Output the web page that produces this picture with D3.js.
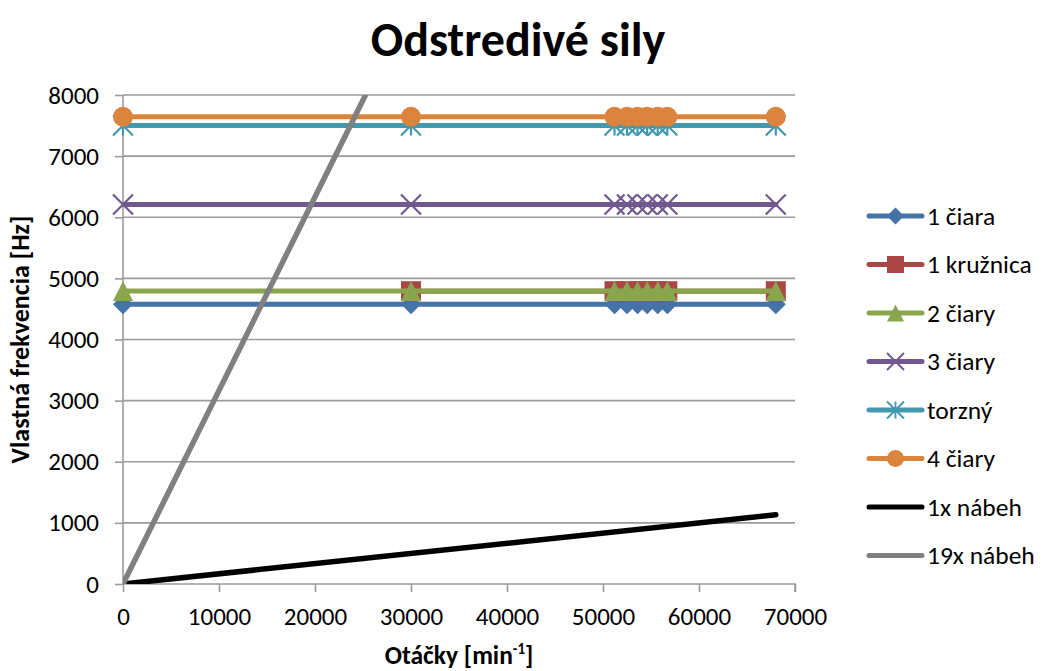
<!DOCTYPE html>
<html>
<head>
<meta charset="utf-8">
<script src="https://cdn.jsdelivr.net/npm/d3@7"></script>
<style>
  html, body { margin: 0; padding: 0; background: #fff; }
  svg { display: block; font-family: Carlito, Calibri, Lato, "Open Sans", sans-serif; }
</style>
</head>
<body>
<svg id="chart" width="1042" height="671"></svg>
<script>
// Rotational speed of each measurement [min^-1]
const rpm = [0, 30000, 51200, 52500, 53600, 54600, 55700, 56700, 68000];

// Natural frequencies of each mode [Hz]
const ciara1    = [4575, 4575, 4575, 4575, 4575, 4575, 4575, 4575, 4575];
const kruznica1 = [null, 4790, 4790, 4790, 4790, 4790, 4790, 4790, 4790];
const ciary2    = [4795, 4795, 4795, 4795, 4795, 4795, 4795, 4795, 4795];
const ciary3    = [6210, 6210, 6210, 6210, 6210, 6210, 6210, 6210, 6210];
const torzny    = [7500, 7500, 7500, 7500, 7500, 7500, 7500, 7500, 7500];
const ciary4    = [7645, 7645, 7645, 7645, 7645, 7645, 7645, 7645, 7645];

// Excitation lines (1x and 19x the rotational frequency)
const rpmRun   = [0, 68000];
const nabeh1x  = [0, 1133];
const nabeh19x = [0, 21533];

const xTicks = [0, 10000, 20000, 30000, 40000, 50000, 60000, 70000];
const yTicks = [0, 1000, 2000, 3000, 4000, 5000, 6000, 7000, 8000];

const seriesNames = ["1 čiara", "1 kružnica", "2 čiary", "3 čiary", "torzný", "4 čiary", "1x nábeh", "19x nábeh"];
const seriesColors = ["#4572A7", "#AA4643", "#89A54E", "#71588F", "#4198AF", "#DB843D", "#000000", "#808080"];
const seriesMarkers = ["diamond", "square", "triangle", "cross", "star", "circle", null, null];

const series = [
  { x: rpm, y: ciara1 },
  { x: rpm, y: kruznica1 },
  { x: rpm, y: ciary2 },
  { x: rpm, y: ciary3 },
  { x: rpm, y: torzny },
  { x: rpm, y: ciary4 },
  { x: rpmRun, y: nabeh1x },
  { x: rpmRun, y: nabeh19x }
].map((s, i) => ({
  name: seriesNames[i], color: seriesColors[i], marker: seriesMarkers[i],
  points: s.x.map((xv, j) => ({ x: xv, y: s.y[j] }))
}));

const svg = d3.select("#chart");
const plot = { left: 123, right: 795, top: 95, bottom: 584 };

const x = d3.scaleLinear().domain([0, 70000]).range([plot.left, plot.right]);
const y = d3.scaleLinear().domain([0, 8000]).range([plot.bottom, plot.top]);

const gridColor = "#9b9b9b";
const tickFont = 25;

// Title
svg.append("text")
  .attr("x", 518).attr("y", 56)
  .attr("text-anchor", "middle")
  .attr("font-size", 48).attr("font-weight", "bold")
  .text("Odstredivé sily");

// Horizontal gridlines
svg.append("g").selectAll("line")
  .data(yTicks.filter(d => d > 0))
  .join("line")
  .attr("x1", plot.left).attr("x2", plot.right)
  .attr("y1", d => y(d)).attr("y2", d => y(d))
  .attr("stroke", gridColor).attr("stroke-width", 1.6);

// Axes
const yAxis = svg.append("g")
  .attr("transform", `translate(${plot.left},0)`)
  .call(d3.axisLeft(y).tickValues(yTicks).tickFormat(d3.format("d")).tickSize(8).tickPadding(16));
const xAxis = svg.append("g")
  .attr("transform", `translate(0,${plot.bottom})`)
  .call(d3.axisBottom(x).tickValues(xTicks).tickFormat(d3.format("d")).tickSize(8).tickPadding(15));
[xAxis, yAxis].forEach(g => {
  g.attr("font-size", tickFont).attr("font-family", null);
  g.select(".domain").attr("stroke", gridColor).attr("stroke-width", 1.6);
  g.selectAll(".tick line").attr("stroke", gridColor).attr("stroke-width", 1.6);
  g.selectAll(".tick text").attr("fill", "#000");
});
xAxis.select(".domain").attr("d", `M${plot.left},0H${plot.right}V8`);
yAxis.select(".domain").attr("d", `M0,${plot.bottom}V${plot.top}`);

// Axis titles
svg.append("text")
  .attr("transform", `translate(29,${(plot.top + plot.bottom) / 2}) rotate(-90)`)
  .attr("text-anchor", "middle")
  .attr("font-size", 26).attr("font-weight", "bold")
  .text("Vlastná frekvencia [Hz]");

const xt = svg.append("text")
  .attr("x", 459).attr("y", 664)
  .attr("text-anchor", "middle")
  .attr("font-size", 25.5).attr("font-weight", "bold");
xt.append("tspan").text("Otáčky [min");
xt.append("tspan").attr("font-size", 15).attr("dy", -10).text("-1");
xt.append("tspan").attr("dy", 10).text("]");

// Marker shapes
function markerPath(type) {
  const s = 10;
  switch (type) {
    case "diamond": return `M0,${-s}L${s},0L0,${s}L${-s},0Z`;
    case "square": return `M${-s},${-s}H${s}V${s}H${-s}Z`;
    case "triangle": return `M0,${-s}L${s},${s}L${-s},${s}Z`;
    case "cross": return `M${-s},${-s}L${s},${s}M${s},${-s}L${-s},${s}`;
    case "star": return `M${-s},${-s}L${s},${s}M${s},${-s}L${-s},${s}M0,${-s}V${s}`;
    case "circle": return d3.arc()({ innerRadius: 0, outerRadius: s, startAngle: 0, endAngle: 2 * Math.PI });
  }
  return "";
}
function drawMarker(g, type, color) {
  const open = type === "cross" || type === "star";
  g.append("path")
    .attr("d", markerPath(type))
    .attr("fill", open ? "none" : color)
    .attr("stroke", open ? color : "none")
    .attr("stroke-width", open ? 2.2 : 0);
}

// Clip lines to the plot area
svg.append("clipPath").attr("id", "plotClip")
  .append("rect")
  .attr("x", plot.left).attr("y", plot.top)
  .attr("width", plot.right - plot.left).attr("height", plot.bottom - plot.top);

const line = d3.line()
  .defined(d => d.y !== null)
  .x(d => x(d.x)).y(d => y(d.y));

series.forEach(s => {
  const g = svg.append("g");
  g.append("path")
    .attr("clip-path", "url(#plotClip)")
    .attr("d", line(s.points))
    .attr("fill", "none")
    .attr("stroke", s.color)
    .attr("stroke-width", s.marker ? 5 : 5.5)
    .attr("stroke-linejoin", "round")
    .attr("stroke-linecap", "round");
  if (s.marker) {
    s.points.filter(d => d.y !== null).forEach(d => {
      const mg = g.append("g").attr("transform", `translate(${x(d.x)},${y(d.y)})`);
      drawMarker(mg, s.marker, s.color);
    });
  }
});

// Legend
const legend = svg.append("g");
series.forEach((s, i) => {
  const ly = 216 + i * 48.5;
  const g = legend.append("g").attr("transform", `translate(0,${ly})`);
  g.append("line")
    .attr("x1", 869).attr("x2", 922)
    .attr("stroke", s.color).attr("stroke-width", 5).attr("stroke-linecap", "round");
  if (s.marker) {
    const mg = g.append("g").attr("transform", "translate(895.5,0) scale(0.85)");
    drawMarker(mg, s.marker, s.color);
  }
  g.append("text")
    .attr("x", 927).attr("y", 0).attr("dy", "0.35em")
    .attr("font-size", 25.5).attr("fill", "#000")
    .text(s.name);
});
</script>
</body>
</html>
